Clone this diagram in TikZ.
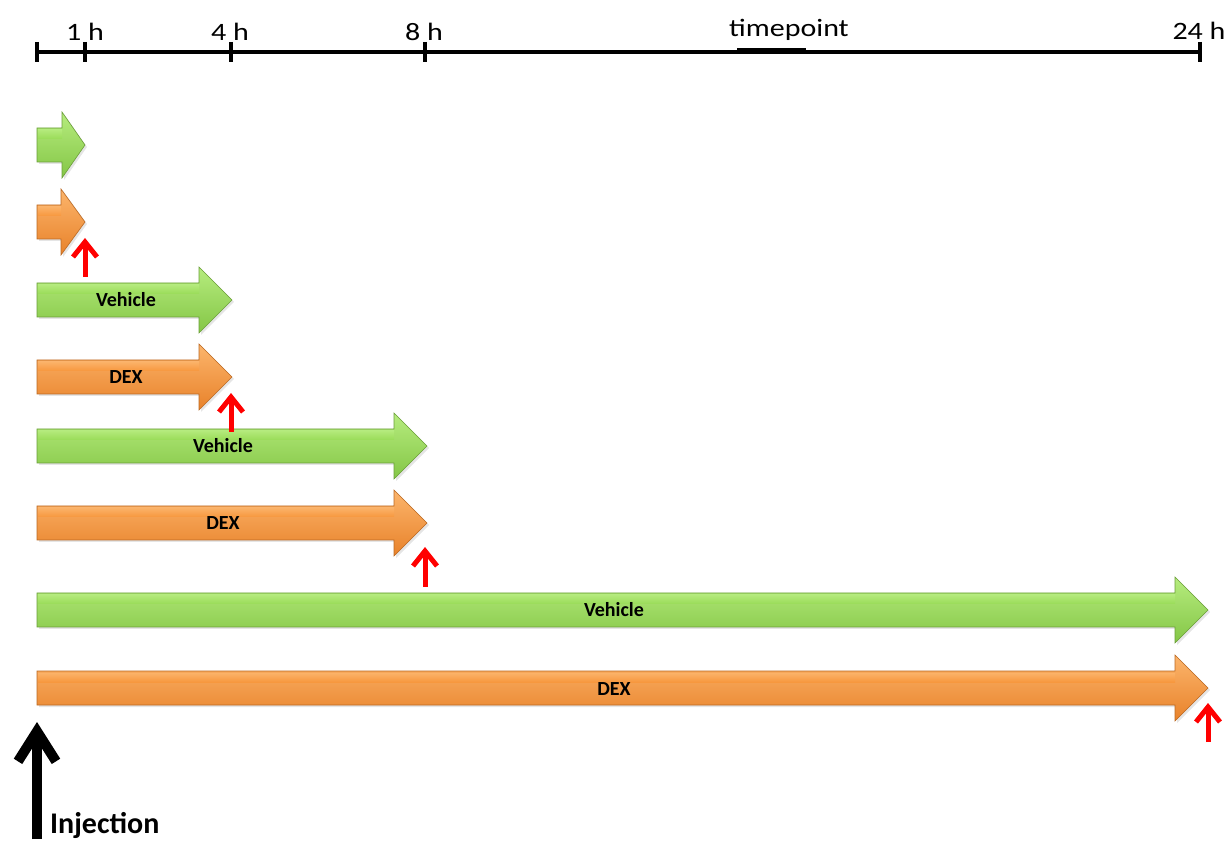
\documentclass[tikz,border=0pt]{standalone}
\usepackage{fontspec}
\setmainfont{Carlito}
\newfontfamily\axisfont[FakeStretch=1.2]{Carlito}
\usetikzlibrary{arrows.meta}
\definecolor{grnL}{HTML}{B6EC7E}
\definecolor{grnM}{HTML}{98DC55}
\definecolor{grnD}{HTML}{84C646}
\definecolor{orgL}{HTML}{FCB56C}
\definecolor{orgM}{HTML}{F8963A}
\definecolor{orgD}{HTML}{E8822A}
\definecolor{redarr}{HTML}{FF0000}
\tikzset{
  x=1pt, y=1pt,
  axisline/.style={line width=3.5pt, black},
  axistick/.style={line width=3.5pt, black},
  axislab/.style={font=\axisfont\fontsize{25}{25}\selectfont, anchor=base, inner sep=0pt},
  barlab/.style={font=\bfseries\fontsize{20}{20}\selectfont, anchor=base, inner sep=0pt},
  sample/.style={draw=redarr, line width=5pt, -{Straight Barb[length=15pt,width=24pt]}},
  inject/.style={draw=black, line width=10pt, -{Straight Barb[length=30pt,width=38pt]}},
  injlab/.style={font=\bfseries\fontsize{30}{30}\selectfont, anchor=base west, inner sep=0pt},
}
% #1 name, #2 centre y (image px from top), #3 head start x, #4 tip x, #5 colour prefix
\newcommand\tlarrow[5]{%
  \pgfmathsetmacro\yc{841-#2}%
  \fill[black!10] (39,\yc+15) -- (#3+2,\yc+15) -- (#3+2,\yc+31) -- (#4+2,\yc-2) -- (#3+2,\yc-35) -- (#3+2,\yc-19) -- (39,\yc-19) -- cycle;
  \shade[top color=#5L, middle color=#5M, bottom color=#5D, draw=#5D!80!black, line width=0.6pt]
    (37,\yc+17) -- (#3,\yc+17) -- (#3,\yc+33) -- (#4,\yc) -- (#3,\yc-33) -- (#3,\yc-17) -- (37,\yc-17) -- cycle;
  \shade[top color=#5L, bottom color=#5M, opacity=0.8] (38,\yc+15) rectangle (#3,\yc+6);
  \coordinate (#1) at (#4,\yc);
}
\begin{document}
\begin{tikzpicture}
\useasboundingbox (0,0) rectangle (1231,841);
% timeline
\coordinate (t0) at (37,789);
\coordinate (t1) at (85,789);
\coordinate (t4) at (231,789);
\coordinate (t8) at (425,789);
\coordinate (t24) at (1200,789);
\draw[axisline] (t0) -- (t24);
\draw[line width=5pt] (737,790) -- (806,790);
\foreach \t in {t0,t1,t4,t8,t24}{
  \draw[axistick] ([yshift=10pt]\t) -- ([yshift=-10pt]\t);
}
\node[axislab] (l1) at (85,800) {1 h};
\node[axislab] (l4) at (230,800) {4 h};
\node[axislab] (l8) at (424,800) {8 h};
\node[axislab] (l24) at (1199,801) {24 h};
\node[axislab] (ltp) at (789,804) {timepoint};
% group arrows
\tlarrow{a1}{145}{62}{85}{grn}
\tlarrow{a2}{222}{61}{85}{org}
\tlarrow{a3}{300}{199}{232}{grn}
\tlarrow{a4}{377}{199}{232}{org}
\tlarrow{a5}{446}{394}{427}{grn}
\tlarrow{a6}{523}{394}{427}{org}
\tlarrow{a7}{610}{1175}{1208}{grn}
\tlarrow{a8}{688}{1175}{1208}{org}
% labels
\node[barlab] (v3) at (126,841-307) {Vehicle};
\node[barlab] (d4) at (126,841-384) {DEX};
\node[barlab] (v5) at (223,841-453) {Vehicle};
\node[barlab] (d6) at (223,841-530) {DEX};
\node[barlab] (v7) at (614,841-617) {Vehicle};
\node[barlab] (d8) at (614,841-695) {DEX};
% sampling arrows
\coordinate (s2) at (85,841-277);
\coordinate (s2t) at (85,841-238);
\coordinate (s4) at (231,841-432);
\coordinate (s4t) at (231,841-393);
\coordinate (s6) at (425,841-587);
\coordinate (s6t) at (425,841-547);
\coordinate (s8) at (1208,841-742);
\coordinate (s8t) at (1208,841-703);
\draw[sample] (s2) -- (s2t);
\draw[sample] (s4) -- (s4t);
\draw[sample] (s6) -- (s6t);
\draw[sample] (s8) -- (s8t);
% injection
\coordinate (inj0) at (37,2);
\coordinate (injt) at (37,841-722);
\draw[inject] (inj0) -- (injt);
\node[injlab] (inj) at (50,8) {Injection};
\end{tikzpicture}
\end{document}
